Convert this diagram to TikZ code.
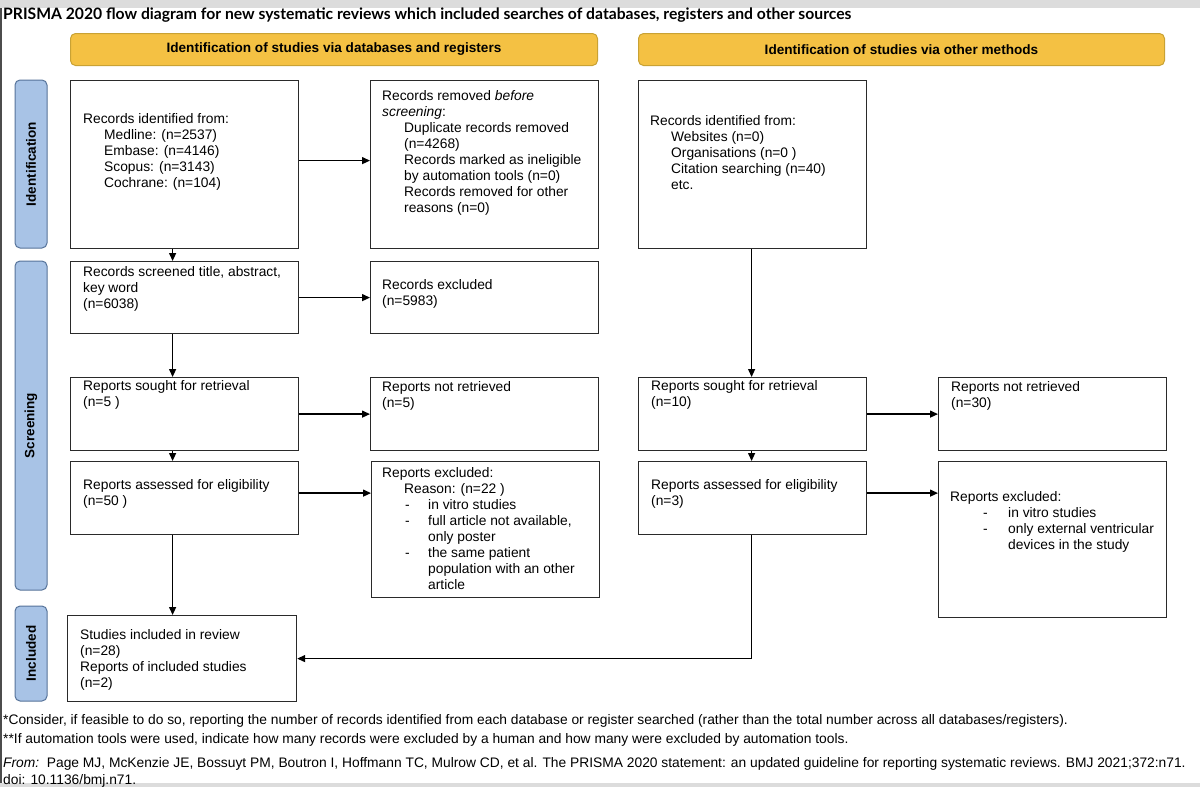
\documentclass[tikz,border=0pt]{standalone}
\usepackage{fontspec}
\setmainfont{Liberation Sans}
\newfontfamily\titlefont{Lato}
\usetikzlibrary{arrows.meta,calc}
\definecolor{hdrfill}{HTML}{F4C143}
\definecolor{hdrdraw}{HTML}{C9A234}
\definecolor{sidefill}{HTML}{A8C3E6}
\definecolor{sidedraw}{HTML}{56739A}
\definecolor{band}{HTML}{DCDCDC}
\definecolor{boxline}{HTML}{2A2A2A}
\begin{document}
\begin{tikzpicture}[x=1pt,y=-1pt,
  box/.style={draw=boxline,line width=1.2pt,fill=white,anchor=north west,inner sep=0pt},
  txt/.style={anchor=north west,align=left,inner sep=0pt,font=\fontsize{13.8}{16}\selectfont},
  hdr/.style={draw=hdrdraw,fill=hdrfill,line width=1pt,rounded corners=5pt,anchor=north west,
    minimum height=32pt,font=\bfseries\fontsize{13.6}{15}\selectfont},
  side/.style={draw=sidedraw,fill=sidefill,line width=1pt,rounded corners=5pt,rotate=90,
    minimum height=32pt,font=\bfseries\fontsize{13.5}{15}\selectfont},
  arr/.style={line width=1.3pt,draw=black,-{Triangle[length=8pt,width=7pt]}},
  ln/.style={line width=1.3pt,draw=black},
  fn/.style={anchor=north west,align=left,inner sep=0pt,font=\fontsize{13.8}{19}\selectfont}
]
\useasboundingbox (0,0) rectangle (1200,787);
\fill[white] (0,0) rectangle (1200,787);
\fill[band] (0,0) rectangle (1200,8);
\fill[band] (0,783) rectangle (1200,787);
\draw[line width=1.5pt,draw=gray!60!black] (0.75,8) -- (0.75,783);

% title
\node[anchor=west,inner sep=0pt,font=\titlefont\bfseries\fontsize{15.7}{17}\selectfont] (title) at (3,15)
 {PRISMA 2020 flow diagram for new systematic reviews which included searches of databases, registers and other sources};

% headers
\node[hdr,minimum width=527pt] (H1) at (70,33) {Identification of studies via databases and registers};
\node[hdr,minimum width=526pt] (H2) at (638,33) {Identification of studies via other methods};

% side labels
\node[side,minimum width=168pt] (S1) at (31,164) {Identification};
\node[side,minimum width=329pt] (S2) at (31,425.5) {Screening};
\node[side,minimum width=95pt] (S3) at (31,653.5) {Included};

% boxes
\node[box,minimum width=228pt,minimum height=168pt] (A) at (70,80) {};
\node[box,minimum width=228pt,minimum height=168pt] (B) at (370,80) {};
\node[box,minimum width=228pt,minimum height=168pt] (C) at (638,80) {};
\node[box,minimum width=228pt,minimum height=72pt] (D) at (70,261) {};
\node[box,minimum width=228pt,minimum height=72pt] (E) at (370,261) {};
\node[box,minimum width=228pt,minimum height=73pt] (F) at (70,377) {};
\node[box,minimum width=228pt,minimum height=73pt] (G) at (370,377) {};
\node[box,minimum width=228pt,minimum height=73pt] (Hb) at (638,377) {};
\node[box,minimum width=228pt,minimum height=73pt] (I) at (938,377) {};
\node[box,minimum width=228pt,minimum height=73pt] (J) at (70,461) {};
\node[box,minimum width=228pt,minimum height=136pt] (K) at (371,461) {};
\node[box,minimum width=228pt,minimum height=73pt] (L) at (638,461) {};
\node[box,minimum width=228pt,minimum height=156pt] (M) at (938,461) {};
\node[box,minimum width=229pt,minimum height=86pt] (N) at (67,615) {};

% texts
\node[txt] (At) at (83,113) {Records identified from:\\
 \hspace*{21pt}Medline: (n=2537)\\
 \hspace*{21pt}Embase: (n=4146)\\
 \hspace*{21pt}Scopus: (n=3143)\\
 \hspace*{21pt}Cochrane: (n=104)};
\node[txt] (Bt) at (382,90) {Records removed \textit{before}\\
 \textit{screening}:\\
 \hspace*{22pt}Duplicate records removed\\
 \hspace*{22pt}(n=4268)\\
 \hspace*{22pt}Records marked as ineligible\\
 \hspace*{22pt}by automation tools (n=0)\\
 \hspace*{22pt}Records removed for other\\
 \hspace*{22pt}reasons (n=0)};
\node[txt] (Ct) at (650,115) {Records identified from:\\
 \hspace*{21pt}Websites (n=0)\\
 \hspace*{21pt}Organisations (n=0 )\\
 \hspace*{21pt}Citation searching (n=40)\\
 \hspace*{21pt}etc.};
\node[txt] (Dt) at (83,266) {Records screened title, abstract,\\key word\\(n=6038)};
\node[txt] (Et) at (382,279) {Records excluded\\(n=5983)};
\node[txt] (Ft) at (83,380) {Reports sought for retrieval\\(n=5 )};
\node[txt] (Gt) at (382,381) {Reports not retrieved\\(n=5)};
\node[txt] (Ht) at (651,380) {Reports sought for retrieval\\(n=10)};
\node[txt] (It) at (951,381) {Reports not retrieved\\(n=30)};
\node[txt] (Jt) at (83,479) {Reports assessed for eligibility\\(n=50 )};
\node[txt] (Kt) at (382,467) {Reports excluded:\\
 \hspace*{22pt}Reason: (n=22 )\\
 \hspace*{23pt}\makebox[23pt][l]{-}in vitro studies\\
 \hspace*{23pt}\makebox[23pt][l]{-}full article not available,\\
 \hspace*{46pt}only poster\\
 \hspace*{23pt}\makebox[23pt][l]{-}the same patient\\
 \hspace*{46pt}population with an other\\
 \hspace*{46pt}article};
\node[txt] (Lt) at (651,479) {Reports assessed for eligibility\\(n=3)};
\node[txt] (Mt) at (950,491) {Reports excluded:\\
 \hspace*{33pt}\makebox[25pt][l]{-}in vitro studies\\
 \hspace*{33pt}\makebox[25pt][l]{-}only external ventricular\\
 \hspace*{58pt}devices in the study};
\node[txt] (Nt) at (80,629) {Studies included in review\\(n=28)\\Reports of included studies\\(n=2)};

% footnotes
\node[fn] (fn1) at (3,714) {*Consider, if feasible to do so, reporting the number of records identified from each database or register searched (rather than the total number across all databases/registers).\\
**If automation tools were used, indicate how many records were excluded by a human and how many were excluded by automation tools.};
\node[fn,font=\fontsize{13.8}{17}\selectfont] (fn2) at (3,757) {\textit{From:}\ \ Page MJ, McKenzie JE, Bossuyt PM, Boutron I, Hoffmann TC, Mulrow CD, et al. The PRISMA 2020 statement: an updated guideline for reporting systematic reviews. BMJ 2021;372:n71.\\
doi: 10.1136/bmj.n71.};

% connectors
\draw[arr] ([yshift=4pt]A.east) -- ([yshift=4pt]A.east -| B.west);
\draw[arr] ([xshift=-12pt]A.south) -- ([xshift=-12pt]A.south |- D.north);
\draw[arr] (D.east) -- (D.east -| E.west);
\draw[arr] ([xshift=-12pt]D.south) -- ([xshift=-12pt]D.south |- F.north);
\draw[arr] (F.east) -- (F.east -| G.west);
\draw[arr] ([xshift=-12pt]F.south) -- ([xshift=-12pt]F.south |- J.north);
\draw[arr] ([yshift=5pt]J.east) -- ([yshift=5pt]J.east -| K.west);
\draw[arr] ([xshift=-12pt]J.south) -- ([xshift=-12pt]J.south |- N.north);
\draw[arr] ([xshift=-1pt]C.south) -- ([xshift=-1pt]C.south |- Hb.north);
\draw[arr] (Hb.east) -- (Hb.east -| I.west);
\draw[arr] ([xshift=-1pt]Hb.south) -- ([xshift=-1pt]Hb.south |- L.north);
\draw[arr] ([yshift=5pt]L.east) -- ([yshift=5pt]L.east -| M.west);
\coordinate (bend) at ([xshift=-1pt]L.south |- N.east);
\draw[ln] ([xshift=-1pt]L.south) -- (bend);
\draw[arr] (bend) -- (N.east);
\end{tikzpicture}
\end{document}
